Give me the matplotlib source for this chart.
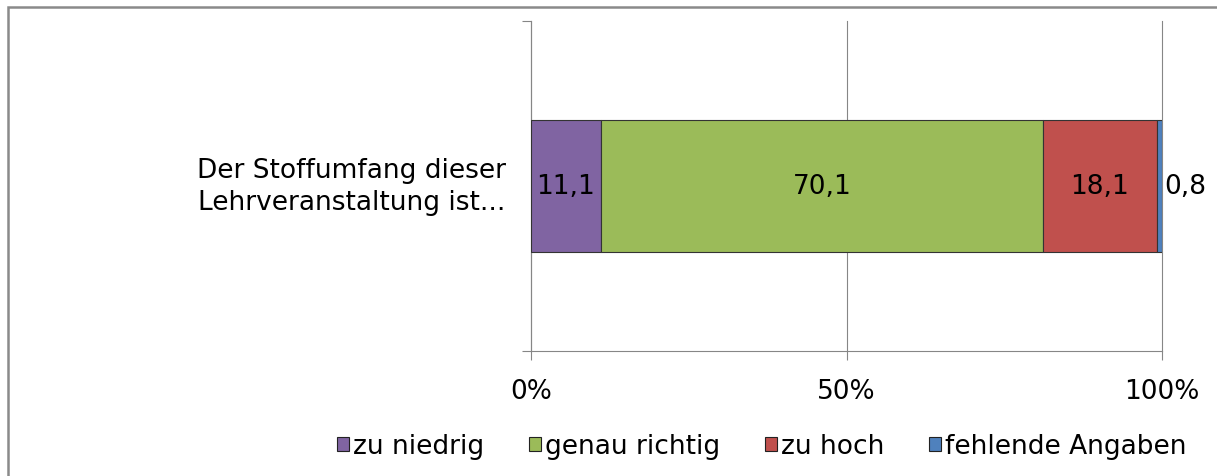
import matplotlib

matplotlib.use("Agg")
import matplotlib.pyplot as plt
from matplotlib.patches import Rectangle
import numpy as np

# --------------------------------------------------------------------------- #
# Data
# --------------------------------------------------------------------------- #
category = "Der Stoffumfang dieser\nLehrveranstaltung ist..."
series_names = ["zu niedrig", "genau richtig", "zu hoch", "fehlende Angaben"]
series_values = [11.1, 70.1, 18.1, 0.8]
series_colors = ["#8064A2", "#9BBB59", "#C0504D", "#4F81BD"]
x_ticks = [0, 50, 100]
x_tick_labels = ["0%", "50%", "100%"]

W, H = 1217, 477
FS = 19
plt.rcParams["font.family"] = ["DejaVu Sans"]
fig = plt.figure(figsize=(W / 100, H / 100), dpi=100)
ax = fig.add_axes([531 / W, 1 - 352 / H, (1162 - 531) / W, (352 - 22) / H])

# 100% stacked bar: normalise by the total
vals = np.array(series_values)
shares = vals / vals.sum() * 100
lefts = np.concatenate([[0], np.cumsum(shares)[:-1]])

for name, left, share, raw, color in zip(series_names, lefts, shares, vals, series_colors):
    ax.barh(0, share, left=left, height=0.4, color=color, edgecolor="#333333",
            linewidth=0.8, label=name, zorder=3)
    label = f"{raw:.1f}".replace(".", ",")
    if share > 5:
        ax.text(left + share / 2, 0, label, ha="center", va="center", fontsize=FS, zorder=4)
    else:
        ax.text(left + share + 0.3, 0, label, ha="left", va="center", fontsize=FS, zorder=4)

ax.set_xlim(0, 100)
ax.set_ylim(-0.5, 0.5)
ax.set_xticks(x_ticks)
ax.set_xticklabels(x_tick_labels, fontsize=FS)
ax.tick_params(axis="x", direction="out", length=6.5, width=0.8, color="#868686", pad=13)
ax.set_yticks([-0.5, 0.5])
ax.set_yticklabels([])
ax.tick_params(axis="y", direction="out", length=6.5, width=0.8, color="#868686")
ax.text(-4, 0, category, ha="right", va="center", fontsize=FS, linespacing=1.32)

ax.grid(axis="x", color="#868686", linewidth=0.8, zorder=0)
for gl in ax.get_xgridlines():
    gl.set_clip_on(False)  # keep the 100% line fully visible at the edge
for side in ["top", "right"]:
    ax.spines[side].set_visible(False)
for side in ["left", "bottom"]:
    ax.spines[side].set_color("#868686")
    ax.spines[side].set_linewidth(0.8)

leg = fig.legend(loc="center", bbox_to_anchor=(762 / W, 1 - 447 / H), ncol=4,
                 frameon=False, fontsize=FS, handlelength=0.45, handleheight=0.45,
                 handletextpad=0.15, columnspacing=1.7)
for h in leg.legend_handles:
    h.set_edgecolor("#222222")

# outer chart frame (runs off the right and bottom edge)
fig.patches.append(Rectangle((8 / W, -0.1), 1.2, 1 - 8 / H + 0.1, transform=fig.transFigure,
                             fill=False, edgecolor="#8a8a8a", linewidth=1.8))

fig.savefig("out.png", dpi=100)
